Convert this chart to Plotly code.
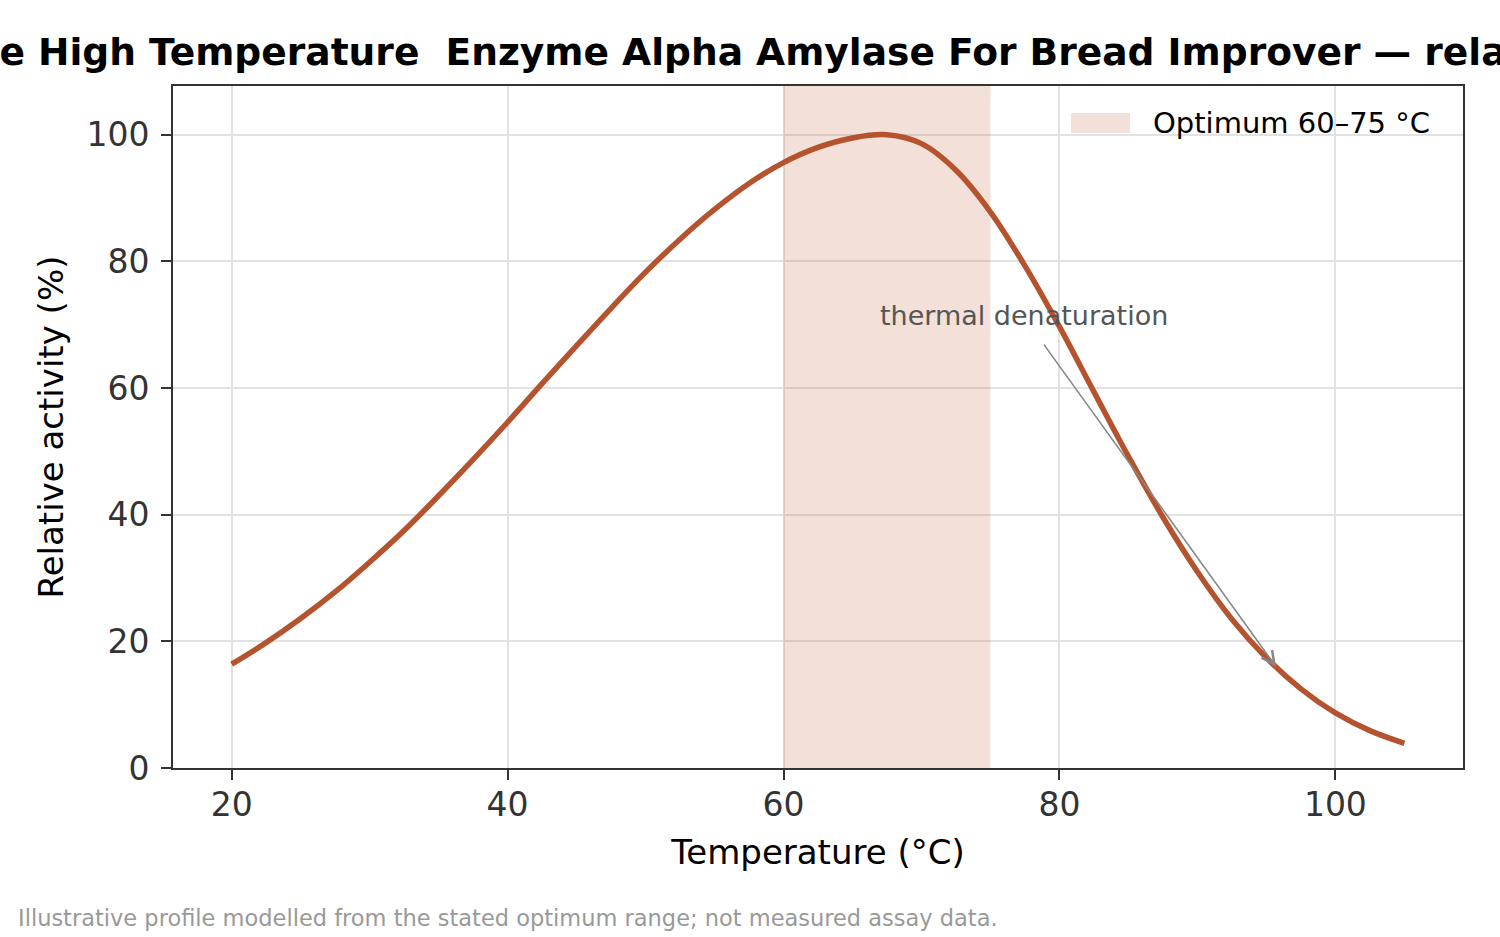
import plotly.graph_objects as go

# Data
temperature_c = [20, 22.5, 25, 27.5, 30, 32.5, 35, 37.5, 40, 42.5, 45, 47.5, 50, 52.5, 55,
                 57.5, 60, 62.5, 65, 67.5, 70, 72.5, 75, 77.5, 80, 82.5, 85, 87.5, 90,
                 92.5, 95, 97.5, 100, 102.5, 105]
relative_activity = [16.4, 19.8, 23.6, 27.8, 32.5, 37.5, 43.0, 48.7, 54.6, 60.7, 66.7, 72.6,
                     78.3, 83.5, 88.2, 92.3, 95.6, 98.0, 99.5, 100.0, 98.6, 94.4, 87.8, 79.3,
                     69.7, 59.4, 49.2, 39.6, 31.0, 23.5, 17.4, 12.5, 8.7, 5.9, 3.9]
optimum_range = [60, 75]
x_ticks = [20, 40, 60, 80, 100]
y_ticks = [0, 20, 40, 60, 80, 100]
x_range = [15.75, 109.25]
y_range = [0, 107.7]
annotation_head = (95.7, 16.0)
annotation_tail = (78.8, 67.1)
annotation_text_pos = (77.4, 71.5)

title_text = "Stable High Temperature  Enzyme Alpha Amylase For Bread Improver \u2014 relative activity"
legend_label = "Optimum 60\u201375 \u00b0C"

LINE = "#b5532e"
SHADE = "rgba(181,83,46,0.18)"
FONT = "DejaVu Sans"

# plot area in pixels (used only to convert pixel-placed decorations to paper coordinates)
L, R, T, B = 173, 1463, 86, 768
def px(xp):
    return (xp - L) / (R - L)
def py(yp):
    return (B - yp) / (B - T)

fig = go.Figure()

fig.add_trace(go.Scatter(
    x=[optimum_range[0], optimum_range[1], optimum_range[1], optimum_range[0], optimum_range[0]],
    y=[y_range[0], y_range[0], y_range[1], y_range[1], y_range[0]],
    fill="toself", fillcolor=SHADE, line=dict(width=0),
    mode="lines", hoverinfo="skip", showlegend=False,
))

fig.add_trace(go.Scatter(
    x=temperature_c, y=relative_activity, mode="lines",
    line=dict(color=LINE, width=5.5, shape="spline"), showlegend=False,
))

# manual legend (patch + label)
fig.add_shape(type="rect", xref="paper", yref="paper",
              x0=px(1071), x1=px(1130), y0=py(133), y1=py(113),
              fillcolor=SHADE, line=dict(width=0))
fig.add_annotation(x=px(1151), y=py(123), xref="paper", yref="paper", text=legend_label,
                   showarrow=False, xanchor="left", yanchor="middle",
                   font=dict(family=FONT, size=29, color="#000000"))

fig.add_annotation(
    x=annotation_head[0], y=annotation_head[1], ax=annotation_tail[0], ay=annotation_tail[1],
    xref="x", yref="y", axref="x", ayref="y", text="", showarrow=True,
    arrowhead=5, arrowsize=1.6, arrowwidth=1.6, arrowcolor="#888888",
)
fig.add_annotation(
    x=annotation_text_pos[0], y=annotation_text_pos[1], xref="x", yref="y",
    text="thermal denaturation", showarrow=False,
    font=dict(family=FONT, size=27, color="#555555"), xanchor="center", yanchor="middle",
)
fig.add_annotation(
    x=px(16), y=py(918), xref="paper", yref="paper",
    text="Illustrative profile modelled from the stated optimum range; not measured assay data.",
    showarrow=False, xanchor="left", yanchor="middle",
    font=dict(family=FONT, size=22.5, color="#999999"),
)

axis_common = dict(
    showline=True, linecolor="#333333", linewidth=2, mirror=True,
    ticks="outside", ticklen=10, tickwidth=2, tickcolor="#333333",
    showgrid=True, gridcolor="#e2e2e2", gridwidth=1.5, zeroline=False,
    tickfont=dict(family=FONT, size=33, color="#333333"),
)

fig.update_layout(
    width=1500, height=937,
    paper_bgcolor="white", plot_bgcolor="white",
    margin=dict(l=L, r=1500 - R, t=T, b=937 - B),
    title=dict(text="<b>" + title_text + "</b>", x=0.5 + 6 / 1290, xref="paper", xanchor="center",
               y=1 - 52 / 937, yref="container", yanchor="middle",
               font=dict(family=FONT, size=37.6, color="#000000")),
    xaxis=dict(range=x_range, tickvals=x_ticks, ticklabelstandoff=-4,
               title=dict(text="Temperature (\u00b0C)", font=dict(family=FONT, size=34, color="#000000"), standoff=18),
               **axis_common),
    yaxis=dict(range=y_range, tickvals=y_ticks, ticklabelstandoff=5,
               title=dict(text="Relative activity (%)", font=dict(family=FONT, size=34, color="#000000"), standoff=13),
               **axis_common),
    showlegend=False,
)

fig.write_html("out.html")
